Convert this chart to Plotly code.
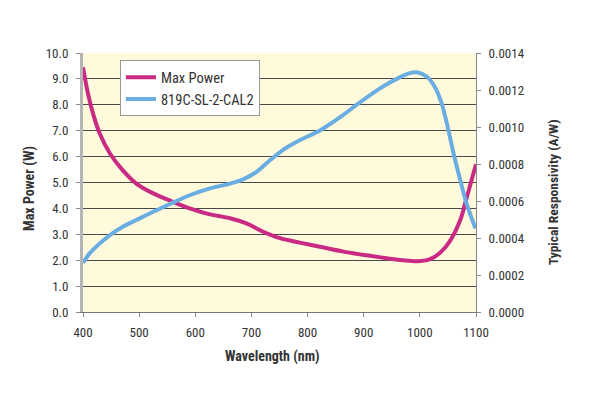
import plotly.graph_objects as go

# Data
power_wl = [400, 409, 418, 430, 448, 471, 495, 525, 555, 590, 626, 662, 691, 721, 751,
            786, 822, 864, 911, 947, 970, 994, 1017, 1035, 1053, 1072, 1083, 1100]
max_power = [9.45, 8.42, 7.65, 6.88, 6.12, 5.47, 4.96, 4.58, 4.30, 4.00, 3.77, 3.62, 3.42, 3.10, 2.85,
             2.68, 2.52, 2.33, 2.17, 2.06, 2.00, 1.96, 2.03, 2.27, 2.72, 3.55, 4.38, 5.7]

resp_wl = [400, 412, 430, 448, 471, 495, 525, 555, 590, 626, 662, 685, 709, 733, 757, 786,
           822, 858, 895, 934, 964, 982, 994, 1012, 1027, 1039, 1051, 1060, 1072, 1083, 1099]
responsivity = [0.000266, 0.000318, 0.000371, 0.000416, 0.000461, 0.000497, 0.000542, 0.000584,
                0.000631, 0.000668, 0.000694, 0.000717, 0.000757, 0.000820, 0.000878, 0.000928,
                0.000981, 0.001053, 0.001137, 0.001218, 0.001268, 0.001291, 0.001296, 0.001273,
                0.001215, 0.001126, 0.000981, 0.000857, 0.000713, 0.000587, 0.000452]

x_ticks = [400, 500, 600, 700, 800, 900, 1000, 1100]
left_ticks = [i * 1.0 for i in range(11)]
right_ticks = [i * 0.0002 for i in range(8)]

FONT = "Liberation Sans Narrow, Arial Narrow, Roboto Condensed, sans-serif"
MAGENTA = "#C92A84"
BLUE = "#6AADE2"
TXT = "#333333"

fig = go.Figure()
fig.add_trace(go.Scatter(x=power_wl, y=max_power, name="Max Power", mode="lines",
                         line=dict(color=MAGENTA, width=4, shape="spline", smoothing=0.8)))
fig.add_trace(go.Scatter(x=resp_wl, y=responsivity, name="819C-SL-2-CAL2", mode="lines",
                         yaxis="y2",
                         line=dict(color=BLUE, width=4, shape="spline", smoothing=0.8)))

fig.update_layout(
    width=600, height=399,
    margin=dict(l=75, r=132, t=45, b=95, autoexpand=False),
    paper_bgcolor="white",
    plot_bgcolor="#FEFADB",
    font=dict(family=FONT, size=13, color=TXT),
    showlegend=True,
    legend=dict(x=0.094, y=0.972, xanchor="left", yanchor="top",
                bgcolor="white", bordercolor="#999999", borderwidth=1,
                font=dict(family=FONT, size=14.5, color=TXT),
                tracegroupgap=0, itemwidth=30, entrywidth=140, entrywidthmode="pixels"),
    xaxis=dict(range=[400, 1100], tickvals=x_ticks, showgrid=False, zeroline=False,
               showline=True, linecolor="#777777", linewidth=1,
               ticks="outside", ticklen=4, tickcolor="#888888", ticklabelstandoff=4,
               tickfont=dict(family=FONT, size=13, color=TXT)),
    yaxis=dict(range=[0, 10], tickvals=left_ticks, tickformat=".1f",
               showgrid=True, gridcolor="#4a4a4a", gridwidth=1, zeroline=False,
               showline=True, linecolor="#b5b5b5", linewidth=3,
               ticks="outside", ticklen=4, tickcolor="#888888", ticklabelstandoff=5,
               tickfont=dict(family=FONT, size=13, color=TXT)),
    yaxis2=dict(range=[0, 0.0014], tickvals=right_ticks, tickformat=".4f",
                overlaying="y", side="right", showgrid=False, zeroline=False,
                showline=True, linecolor="#888888", linewidth=1,
                ticks="outside", ticklen=4, tickcolor="#888888", ticklabelstandoff=5,
                tickfont=dict(family=FONT, size=13, color=TXT)),
)

fig.add_annotation(text="<b>Max Power (W)</b>", xref="paper", yref="paper",
                   x=-0.135, y=0.479, xanchor="center", yanchor="middle",
                   textangle=-90, showarrow=False,
                   font=dict(family=FONT, size=14, color=TXT))
fig.add_annotation(text="<b>Typical Responsivity (A/W)</b>", xref="paper", yref="paper",
                   x=1.196, y=0.463, xanchor="center", yanchor="middle",
                   textangle=-90, showarrow=False,
                   font=dict(family=FONT, size=13.5, color=TXT))
fig.add_annotation(text="<b>Wavelength (nm)</b>", xref="paper", yref="paper",
                   x=0.483, y=-0.171, xanchor="center", yanchor="middle", showarrow=False,
                   font=dict(family=FONT, size=14, color=TXT))

fig.write_html("out.html")
